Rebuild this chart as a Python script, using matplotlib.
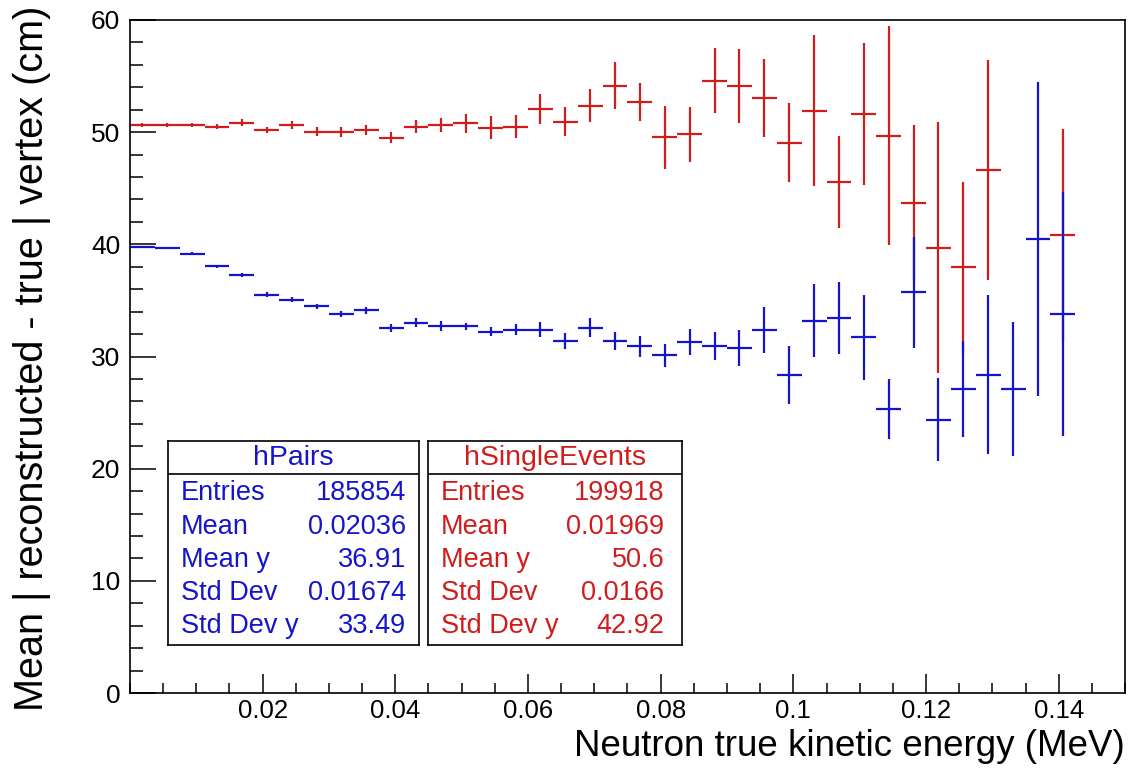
import numpy as np
import matplotlib.pyplot as plt
from matplotlib.ticker import MultipleLocator, FixedLocator

plt.rcParams['font.family'] = ['Liberation Sans', 'DejaVu Sans']

# profile binning: 40 bins over 0 - 0.15 MeV
n_bins = 40
x_lo, x_hi = 0.0, 0.15

# hPairs (blue) : bin number -> mean, error
pairs_bin = list(range(1, 39))
pairs_mean = [39.76, 39.67, 39.16, 38.03, 37.27, 35.51, 35.07, 34.47, 33.82, 34.11,
              32.55, 32.99, 32.69, 32.69, 32.19, 32.39, 32.39, 31.41, 32.55, 31.41,
              30.91, 30.11, 31.26, 30.91, 30.77, 32.39, 28.39, 33.20, 33.43, 31.71,
              25.36, 35.72, 24.38, 27.10, 28.39, 27.10, 40.47, 33.79]
pairs_err = [0.10, 0.10, 0.12, 0.15, 0.18, 0.20, 0.22, 0.25, 0.28, 0.33,
             0.37, 0.40, 0.45, 0.30, 0.40, 0.50, 0.67, 0.70, 0.85, 0.80,
             0.96, 1.04, 1.16, 1.26, 1.60, 2.05, 2.58, 3.23, 3.23, 3.78,
             2.67, 4.97, 3.70, 4.25, 7.10, 6.00, 14.0, 10.9]

# hSingleEvents (red)
single_bin = list(range(1, 36)) + [38]
single_mean = [50.65, 50.65, 50.65, 50.50, 50.86, 50.20, 50.65, 50.05, 50.05, 50.20,
               49.50, 50.50, 50.65, 50.80, 50.41, 50.50, 52.07, 50.94, 52.37, 54.15,
               52.72, 49.55, 49.82, 54.60, 54.12, 53.03, 49.07, 51.92, 45.55, 51.60,
               49.70, 43.68, 39.70, 37.94, 46.64, 40.79]
single_err = [0.15, 0.18, 0.20, 0.22, 0.30, 0.30, 0.35, 0.40, 0.45, 0.45,
              0.50, 0.55, 0.60, 0.86, 1.00, 1.00, 1.33, 1.26, 1.50, 2.10,
              1.70, 2.80, 2.45, 2.90, 3.30, 3.50, 3.53, 6.72, 4.12, 6.32,
              9.80, 6.97, 11.2, 7.60, 9.80, 9.50]

pairs_stats = [("Entries", "185854"), ("Mean", "0.02036"), ("Mean y", "36.91"),
               ("Std Dev", "0.01674"), ("Std Dev y", "33.49")]
single_stats = [("Entries", "199918"), ("Mean", "0.01969"), ("Mean y", "50.6"),
                ("Std Dev", "0.0166"), ("Std Dev y", "42.92")]

blue = '#1414cc'
red = '#d01c1c'

width = (x_hi - x_lo) / n_bins

def centers(bins):
    return x_lo + (np.array(bins) - 0.5) * width

fig = plt.figure(figsize=(11.29, 7.69), dpi=100)
ax = fig.add_axes([0.1151, 0.0988, 0.8814, 0.8752])

ax.errorbar(centers(single_bin), single_mean, xerr=width / 2, yerr=single_err,
            fmt='none', ecolor=red, elinewidth=1.6, capsize=0)
ax.errorbar(centers(pairs_bin), pairs_mean, xerr=width / 2, yerr=pairs_err,
            fmt='none', ecolor=blue, elinewidth=1.6, capsize=0)

ax.set_xlim(x_lo, x_hi)
ax.set_ylim(0, 60)
ax.xaxis.set_major_locator(FixedLocator([0.02, 0.04, 0.06, 0.08, 0.1, 0.12, 0.14]))
ax.xaxis.set_minor_locator(MultipleLocator(0.005))
ax.yaxis.set_major_locator(MultipleLocator(10))
ax.yaxis.set_minor_locator(MultipleLocator(2))
ax.set_xticklabels(["0.02", "0.04", "0.06", "0.08", "0.1", "0.12", "0.14"])
ax.tick_params(axis='both', which='both', direction='in', top=False, right=False,
               labelsize=19, width=1.1)
ax.tick_params(axis='x', which='major', length=14, pad=4.5, labelsize=18.5)
ax.tick_params(axis='x', which='minor', length=7)
ax.tick_params(axis='y', which='major', length=19, pad=7)
ax.tick_params(axis='y', which='minor', length=9.5)
for s in ax.spines.values():
    s.set_linewidth(1.2)

# ROOT style titles: right/top aligned at the axis ends
ax.set_xlabel("Neutron true kinetic energy (MeV)", fontsize=26.5, ha='right', va='top')
ax.set_ylabel("Mean | reconstructed - true | vertex (cm)", fontsize=28.5,
              ha='right', va='center', rotation_mode='anchor')
ax.xaxis.set_label_coords(1.0, -0.0535)
ax.yaxis.set_label_coords(-0.098, 1.022)

# stats boxes
def stats_box(rect, title, rows, color, xl, xr):
    bx = fig.add_axes(rect)
    bx.set_xlim(0, 1)
    bx.set_ylim(0, 1)
    bx.set_xticks([])
    bx.set_yticks([])
    for s in bx.spines.values():
        s.set_linewidth(1.2)
    bx.axhline(0.838, color='black', linewidth=1.2)
    bx.text(0.5, 0.915, title, color=color, fontsize=20.5, ha='center', va='center')
    ys = [0.745, 0.578, 0.417, 0.255, 0.093]
    for (name, val), y in zip(rows, ys):
        bx.text(xl, y, name, color=color, fontsize=19.5, ha='left', va='center')
        bx.text(xr, y, val, color=color, fontsize=19.5, ha='right', va='center')

stats_box([0.1488, 0.1612, 0.2223, 0.2653], "hPairs", pairs_stats, blue, 0.05, 0.95)
stats_box([0.3791, 0.1612, 0.2250, 0.2653], "hSingleEvents", single_stats, red, 0.05, 0.93)

fig.savefig("out.png", dpi=100)
